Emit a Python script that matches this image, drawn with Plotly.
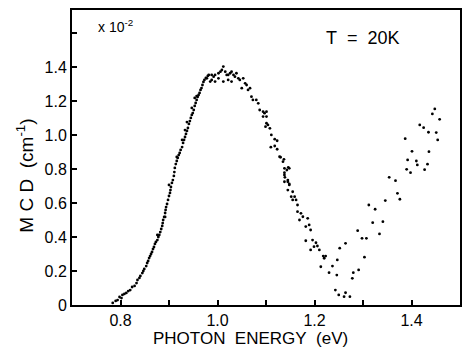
import plotly.graph_objects as go

# Photon energy (eV) and MCD (x10^-2 cm^-1)
energy_rise = [0.784, 0.790, 0.794, 0.798, 0.802, 0.804, 0.808, 0.812, 0.816, 0.820,
               0.824, 0.829, 0.833, 0.835, 0.839, 0.841, 0.845, 0.847, 0.849, 0.853,
               0.855, 0.857, 0.859, 0.861, 0.863, 0.865, 0.867, 0.869, 0.871, 0.873,
               0.876, 0.878, 0.880, 0.882, 0.884, 0.886, 0.887, 0.888, 0.890, 0.892,
               0.893, 0.894, 0.896, 0.898, 0.900, 0.902, 0.903, 0.904, 0.906, 0.908,
               0.910, 0.911, 0.912, 0.914, 0.916, 0.918, 0.920, 0.922, 0.924, 0.927,
               0.929, 0.931, 0.933, 0.935, 0.937, 0.939, 0.941, 0.943, 0.945, 0.947,
               0.949, 0.951, 0.953, 0.955, 0.957, 0.959, 0.961, 0.963, 0.965, 0.967,
               0.969, 0.971, 0.973, 0.976, 0.980,
               0.927, 0.900, 0.937, 0.953, 0.876, 0.933, 0.947, 0.957, 0.916, 0.892]
mcd_rise = [0.012, 0.024, 0.029, 0.047, 0.041, 0.059, 0.065, 0.071, 0.082, 0.088,
            0.106, 0.112, 0.129, 0.147, 0.159, 0.171, 0.188, 0.200, 0.212, 0.229,
            0.247, 0.259, 0.276, 0.288, 0.300, 0.312, 0.329, 0.341, 0.359, 0.371,
            0.382, 0.400, 0.412, 0.429, 0.447, 0.465, 0.482, 0.500, 0.518, 0.541,
            0.559, 0.576, 0.594, 0.618, 0.641, 0.659, 0.676, 0.694, 0.718, 0.735,
            0.759, 0.782, 0.806, 0.829, 0.847, 0.865, 0.882, 0.894, 0.912, 0.929,
            0.953, 0.971, 0.988, 1.006, 1.024, 1.041, 1.065, 1.082, 1.100, 1.118,
            1.129, 1.147, 1.171, 1.188, 1.206, 1.224, 1.235, 1.247, 1.265, 1.276,
            1.294, 1.312, 1.324, 1.335, 1.347,
            0.971, 0.706, 1.076, 1.218, 0.412, 1.029, 1.159, 1.229, 0.871, 0.518]

energy_peak = [0.978, 0.982, 0.985, 0.988, 0.992, 0.995, 1.002, 1.006, 1.009, 1.012,
               1.016, 1.012, 1.022, 1.019, 1.026, 1.029, 1.033, 1.036, 1.039, 1.029,
               1.043, 1.046, 1.050, 1.057, 1.060, 1.067, 1.063, 1.070, 1.073, 1.080,
               1.084, 1.087, 1.094, 1.101, 1.094, 1.101, 1.002, 1.053, 0.995, 0.988,
               1.022]
mcd_peak = [1.333, 1.353, 1.314, 1.324, 1.343, 1.314, 1.363, 1.372, 1.382, 1.402,
            1.372, 1.314, 1.324, 1.353, 1.363, 1.372, 1.353, 1.343, 1.363, 1.314,
            1.333, 1.324, 1.275, 1.304, 1.294, 1.275, 1.265, 1.225, 1.206, 1.206,
            1.186, 1.147, 1.137, 1.137, 1.108, 1.108, 1.333, 1.333, 1.353, 1.353,
            1.353]

energy_fall = [1.097, 1.101, 1.104, 1.099, 1.108, 1.111, 1.118, 1.123, 1.110, 1.118,
               1.123, 1.130, 1.135, 1.137, 1.146, 1.143, 1.138, 1.139, 1.145, 1.148,
               1.128, 1.138, 1.148, 1.138, 1.145, 1.138, 1.148, 1.145, 1.155, 1.152,
               1.159, 1.155, 1.162, 1.165, 1.165, 1.172, 1.176, 1.169, 1.186, 1.182,
               1.189, 1.192, 1.196, 1.182, 1.203, 1.206, 1.199, 1.210, 1.192, 1.218,
               1.223, 1.220, 1.213, 1.237, 1.230, 1.246, 1.247, 1.252, 1.264, 1.243,
               1.250, 1.261, 1.264, 1.273]
mcd_fall = [1.128, 1.069, 1.059, 1.049, 1.039, 1.000, 0.975, 0.966, 0.928, 0.935,
            0.916, 0.869, 0.843, 0.857, 0.810, 0.794, 0.778, 0.751, 0.735, 0.712,
            0.872, 0.804, 0.804, 0.765, 0.725, 0.725, 0.706, 0.676, 0.666, 0.637,
            0.637, 0.618, 0.618, 0.588, 0.549, 0.539, 0.519, 0.500, 0.510, 0.461,
            0.471, 0.441, 0.382, 0.378, 0.366, 0.347, 0.343, 0.324, 0.324, 0.288,
            0.288, 0.275, 0.225, 0.229, 0.190, 0.176, 0.265, 0.334, 0.363, 0.088,
            0.059, 0.049, 0.072, 0.049]

energy_high = [1.278, 1.280, 1.291, 1.303, 1.289, 1.298, 1.307, 1.320, 1.312, 1.325,
               1.334, 1.341, 1.346, 1.354, 1.367, 1.371, 1.376, 1.387, 1.390, 1.398,
               1.392, 1.410, 1.412, 1.401, 1.427, 1.433, 1.436, 1.417, 1.425, 1.435,
               1.451, 1.454, 1.443, 1.448, 1.458]
mcd_high = [0.157, 0.190, 0.206, 0.281, 0.437, 0.392, 0.392, 0.484, 0.588, 0.563,
            0.418, 0.490, 0.614, 0.751, 0.731, 0.657, 0.622, 0.978, 0.798, 0.778,
            0.853, 0.847, 0.824, 0.904, 0.796, 0.828, 0.902, 1.059, 1.043, 1.016,
            1.014, 0.971, 1.124, 1.153, 1.092]

x_ticks = [0.8, 0.9, 1.0, 1.1, 1.2, 1.3, 1.4]
x_labels = ["0.8", "", "1.0", "", "1.2", "", "1.4"]
y_ticks = [0, 0.2, 0.4, 0.6, 0.8, 1.0, 1.2, 1.4, 1.6]
y_labels = ["0", "0.2", "0.4", "0.6", "0.8", "1.0", "1.2", "1.4", ""]

energy = energy_rise + energy_peak + energy_fall + energy_high
mcd = mcd_rise + mcd_peak + mcd_fall + mcd_high

font = "Liberation Sans, Arial, sans-serif"
nb = "\u00a0"

fig = go.Figure()
fig.add_trace(go.Scatter(
    x=energy, y=mcd, mode="markers",
    marker=dict(color="black", size=2.8, line=dict(width=0)),
    showlegend=False, hoverinfo="skip",
))

axis_common = dict(
    showgrid=False, zeroline=False, showline=True, linecolor="black", linewidth=2,
    mirror=True, ticks="inside", ticklen=5, tickwidth=1.5, tickcolor="black",
    tickfont=dict(family=font, size=16, color="black"),
)

fig.update_layout(
    width=464, height=349,
    margin=dict(l=72, r=2, t=10, b=44),
    paper_bgcolor="white", plot_bgcolor="white",
    xaxis=dict(range=[0.7, 1.5], tickmode="array", tickvals=x_ticks, ticktext=x_labels,
               **axis_common),
    yaxis=dict(range=[0, 1.735], tickmode="array", tickvals=y_ticks, ticktext=y_labels,
               **axis_common),
    annotations=[
        dict(text="PHOTON" + nb * 2 + "ENERGY" + nb * 2 + "(eV)", x=0.46, y=-0.149,
             xref="paper", yref="paper", borderpad=0,
             xanchor="center", yanchor="bottom", showarrow=False,
             font=dict(family=font, size=17, color="black")),
        dict(text="M" + nb + "C" + nb + "D" + nb * 2 + "(cm<sup>-1</sup>)", x=-0.12, y=0.44,
             xref="paper", yref="paper",
             textangle=-90, xanchor="center", yanchor="middle", showarrow=False,
             font=dict(family=font, size=19, color="black")),
        dict(text="x 10<sup>-2</sup>", x=0.062, y=0.982, xref="paper", yref="paper",
             xanchor="left", yanchor="top", showarrow=False,
             font=dict(family=font, size=14, color="black")),
        dict(text="T" + nb * 2 + "=" + nb * 2 + "20K", x=0.65, y=0.945, xref="paper", yref="paper",
             xanchor="left", yanchor="top", showarrow=False,
             font=dict(family=font, size=18, color="black")),
    ],
)

fig.write_html("out.html")
